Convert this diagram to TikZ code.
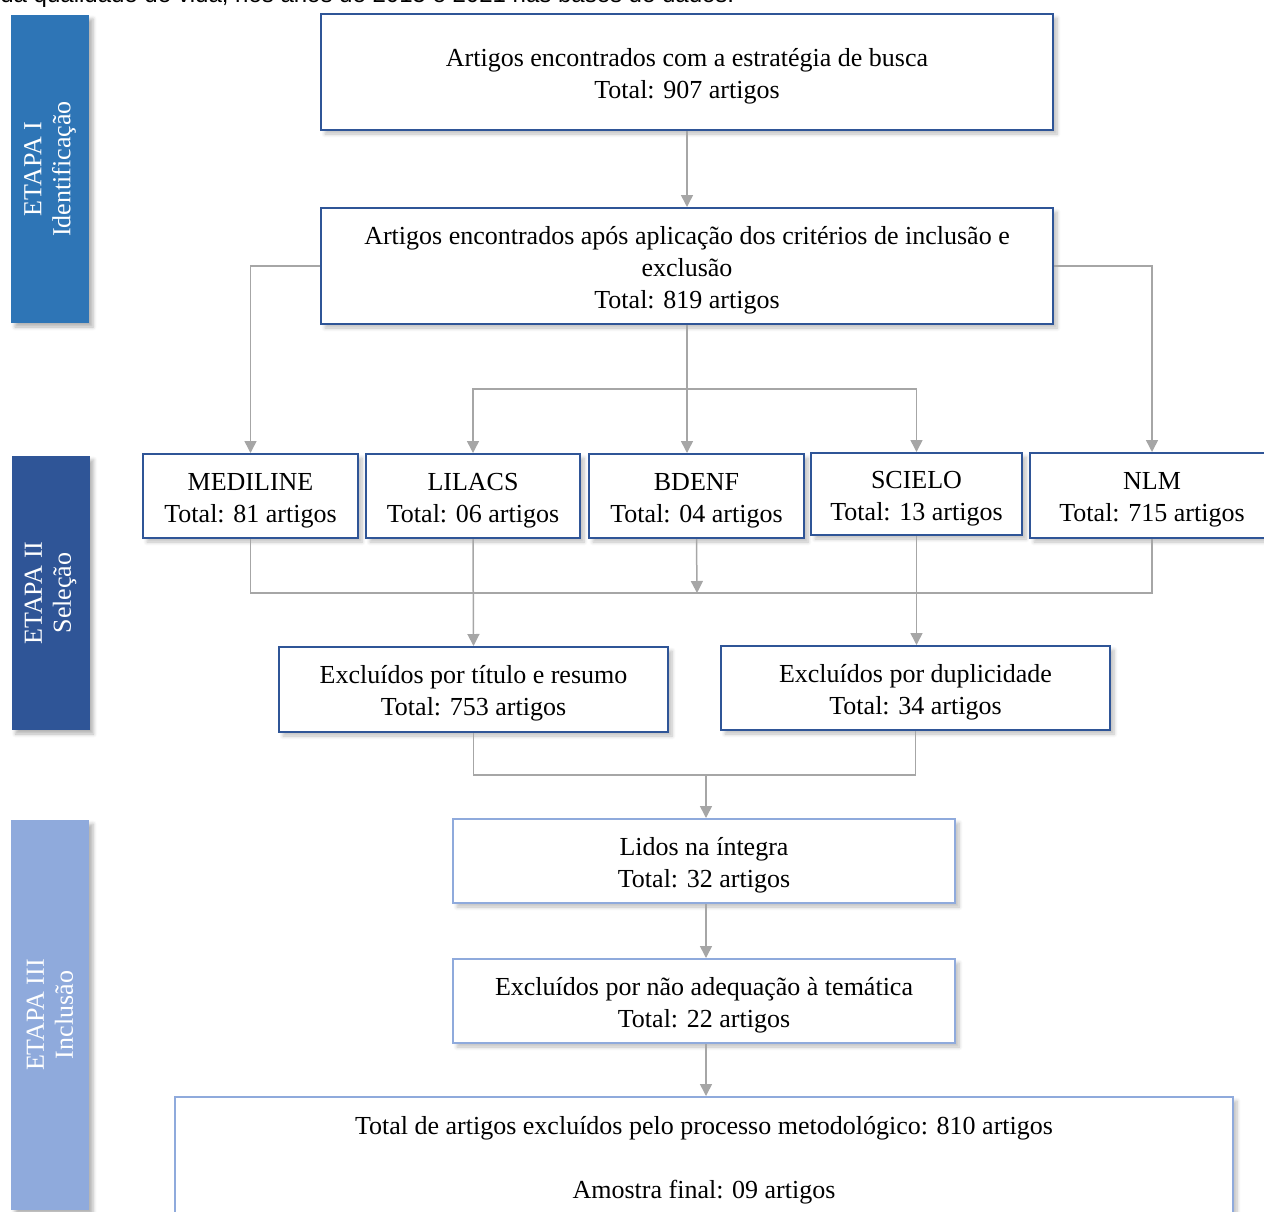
\documentclass[tikz,border=0pt]{standalone}
\usepackage{fontspec}
\setmainfont{Liberation Serif}
\newfontfamily\arialfont{Liberation Sans}
\usetikzlibrary{arrows.meta,shadows.blur}
\definecolor{azulum}{HTML}{2E75B6}
\definecolor{azuldois}{HTML}{2F5597}
\definecolor{azultres}{HTML}{8FAADC}
\definecolor{cinzalinha}{HTML}{A6A6A6}
\newcommand{\desce}{\rule{0pt}{13pt}}
\begin{document}
\begin{tikzpicture}[x=0.5pt, y=-0.5pt,
	caixa/.style={draw=azuldois, line width=1pt, fill=white, align=center, inner sep=0pt,
		font=\fontsize{13}{16}\selectfont,
		blur shadow={shadow xshift=2pt, shadow yshift=-2pt, shadow opacity=25, shadow blur steps=6}},
	caixaclara/.style={caixa, draw=azultres},
	etapa/.style={rotate=90, text=white, align=center, inner sep=0pt, minimum height=39pt,
		font=\fontsize{13}{14.5}\selectfont,
		blur shadow={shadow xshift=2pt, shadow yshift=-2pt, shadow opacity=30, shadow blur steps=4}},
	liga/.style={draw=cinzalinha, line width=0.75pt},
	seta/.style={liga, -{Triangle[width=6pt,length=6pt]}}]
	\useasboundingbox (0,0) rectangle (1264,1211);
	\clip (0,0) rectangle (1264,1211);
	% legenda cortada no topo
	\node[anchor=base west, inner sep=0pt, font=\arialfont\fontsize{12}{14}\selectfont] (legenda) at (0,2) {da qualidade de vida, nos anos de 2015 e 2021 nas bases de dados.};
	% etapas
	\node[etapa, fill=azulum, minimum width=154pt] (etapa1) at (50,169) {ETAPA I\\Identificação};
	\node[etapa, fill=azuldois, minimum width=137pt] (etapa2) at (50.5,593) {ETAPA II\\Seleção};
	\node[etapa, fill=azultres, minimum width=195pt] (etapa3) at (50,1015) {ETAPA III\\Inclusão};
	% identificacao
	\node[caixa, minimum width=366pt, minimum height=58pt] (busca) at (687,72) {\desce Artigos encontrados com a estratégia de busca\\Total: 907 artigos};
	\node[caixa, minimum width=366pt, minimum height=58pt] (criterios) at (687,266) {\desce Artigos encontrados após aplicação dos critérios de inclusão e\\exclusão\\Total: 819 artigos};
	% bases de dados
	\node[caixa, minimum width=107.5pt, minimum height=42pt] (medline) at (250.5,496) {\desce MEDILINE\\Total: 81 artigos};
	\node[caixa, minimum width=107pt, minimum height=42pt] (lilacs) at (473,496) {\desce LILACS\\Total: 06 artigos};
	\node[caixa, minimum width=107.5pt, minimum height=42pt] (bdenf) at (696.5,496) {\desce BDENF\\Total: 04 artigos};
	\node[caixa, minimum width=105.5pt, minimum height=41pt] (scielo) at (916.5,494) {\desce SCIELO\\Total: 13 artigos};
	\node[caixa, minimum width=122pt, minimum height=42.5pt] (nlm) at (1152,495.5) {\desce NLM\\Total: 715 artigos};
	% exclusoes
	\node[caixa, minimum width=194.5pt, minimum height=42.5pt] (extitulo) at (473.5,689.5) {\desce Excluídos por título e resumo\\Total: 753 artigos};
	\node[caixa, minimum width=194.5pt, minimum height=42pt] (exduplo) at (915.5,688) {\desce Excluídos por duplicidade\\Total: 34 artigos};
	% inclusao
	\node[caixaclara, minimum width=251pt, minimum height=42pt] (lidos) at (704,861) {\desce Lidos na íntegra\\Total: 32 artigos};
	\node[caixaclara, minimum width=251pt, minimum height=42pt] (extema) at (704,1001) {\desce Excluídos por não adequação à temática\\Total: 22 artigos};
	\node[caixaclara, minimum width=529pt, minimum height=59pt] (final) at (704,1156) {\desce Total de artigos excluídos pelo processo metodológico: 810 artigos\\[16pt]Amostra final: 09 artigos};
	% pontos de juncao
	\coordinate (divide) at (687,389);
	\coordinate (junta) at (697,593);
	\coordinate (juntaex) at (706,775);
	% ligacoes
	\draw[seta] (busca) -- (criterios);
	\draw[seta] (criterios.west) -| (medline.north);
	\draw[seta] (criterios.east) -| (nlm.north);
	\draw[seta] (criterios.south) -- (criterios.south |- bdenf.north);
	\draw[seta] (divide) -| (lilacs.north);
	\draw[seta] (divide) -| (scielo.north);
	\draw[liga] (medline.south) |- (junta) -| (nlm.south);
	\draw[seta] (bdenf.south) -- (junta);
	\draw[seta] (lilacs.south) -- (extitulo.north);
	\draw[seta] (scielo.south) -- (scielo.south |- exduplo.north);
	\draw[liga] (extitulo.south) |- (juntaex) -| (exduplo.south);
	\draw[seta] (juntaex) -- (juntaex |- lidos.north);
	\draw[seta] (lidos.south -| juntaex) -- (juntaex |- extema.north);
	\draw[seta] (extema.south -| juntaex) -- (juntaex |- final.north);
\end{tikzpicture}
\end{document}
